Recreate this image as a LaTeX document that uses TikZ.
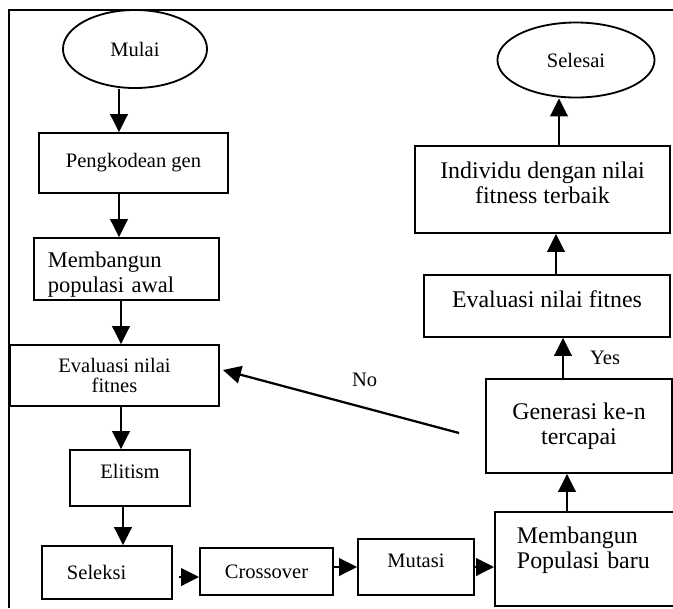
\documentclass[tikz,border=0pt]{standalone}
\usepackage{fontspec}
\setmainfont{Liberation Serif}
\usetikzlibrary{positioning,shapes.geometric,arrows.meta}

% struts to move text off the box centre
\newcommand{\lowstrut}[1]{\rule[-#1]{0pt}{#1}}
\newcommand{\highstrut}[1]{\rule{0pt}{#1}}

\begin{document}
\begin{tikzpicture}[
    x=0.025cm, y=-0.025cm,
    box/.style={draw, line width=1.3pt, inner sep=0pt},
    oval/.style={draw, ellipse, line width=1.3pt, inner sep=0pt},
    arr/.style={-{Triangle[length=0.45cm, width=0.44cm]}, line width=1.6pt},
    fsmall/.style={font=\fontsize{14.6}{14.2}\selectfont},
    fmid/.style={font=\fontsize{16}{17.8}\selectfont},
    fbig/.style={font=\fontsize{17}{17.8}\selectfont},
]

% --- page (pixel units) and frame ---
\useasboundingbox (0,0) rectangle (673,608);
\draw[line width=0.8pt] (673,10) -- (9,10) -- (9,608);

% --- left column ---
\node[oval, fsmall, minimum width=3.6cm, minimum height=1.95cm] (mulai) at (135,49) {Mulai};
\node[box, fsmall, minimum width=4.725cm, minimum height=1.5cm] (peng) at (133.5,163) {Pengkodean gen};
\node[box, fmid, align=left, text width=3.925cm, minimum width=4.625cm, minimum height=1.55cm]
    (awal) at (126.5,269) {\highstrut{19pt}Membangun\\populasi awal};
\node[box, fsmall, align=center, minimum width=5.225cm, minimum height=1.525cm]
    (evl) at (114.5,375.5) {Evaluasi nilai\\fitnes};
\node[box, fsmall, minimum width=3cm, minimum height=1.4cm] (elit) at (130,478) {Elitism\lowstrut{10pt}};
\node[box, fsmall, align=left, text width=2cm, minimum width=3.25cm, minimum height=1.325cm]
    (sel) at (107,572.5) {Seleksi};

% --- bottom row ---
\node[box, fsmall, minimum width=3.325cm, minimum height=1.175cm] (cross) at (266.5,571.5) {Crossover};
\node[box, fsmall, minimum width=2.9cm, minimum height=1.4cm] (mut) at (416,567) {Mutasi\lowstrut{8.5pt}};
\node[box, fbig, align=left, text width=3.9cm, minimum width=5cm, minimum height=2.35cm]
    (baru) at (595,559) {Membangun\\Populasi baru\lowstrut{16pt}};

% --- right column ---
\node[box, fbig, align=center, minimum width=4.65cm, minimum height=2.35cm]
    (gen) at (579,426) {Generasi ke-n\\tercapai};
\node[box, fbig, minimum width=6.15cm, minimum height=1.55cm] (evr) at (547,306) {Evaluasi nilai fitnes\lowstrut{10pt}};
\node[box, fbig, align=center, minimum width=6.375cm, minimum height=2.175cm]
    (indiv) at (542.5,189.5) {Individu dengan nilai\\fitness terbaik\lowstrut{9pt}};
\node[oval, fsmall, minimum width=3.925cm, minimum height=1.875cm] (selesai) at (576,60) {Selesai};

% --- arrows down the left ---
\draw[arr] ([xshift=-0.4cm]mulai.south) -- ([xshift=-0.4cm]mulai.south |- peng.north);
\draw[arr] ([xshift=-0.3625cm]peng.south) -- ([xshift=-0.3625cm]peng.south |- awal.north);
\draw[arr] ([xshift=-0.1375cm]awal.south) -- ([xshift=-0.1375cm]awal.south |- evl.north);
\draw[arr] ([xshift=0.1625cm]evl.south) -- ([xshift=0.1625cm]evl.south |- elit.north);
\draw[arr] ([xshift=-0.175cm]elit.south) -- ([xshift=-0.175cm]elit.south |- sel.north);

% --- arrows along the bottom ---
\draw[arr, shorten <=0.15cm] ([yshift=-0.1125cm]sel.east) -- ([yshift=-0.1125cm]sel.east -| cross.west);
\draw[arr] ([yshift=0.1125cm]cross.east) -- ([yshift=0.1125cm]cross.east -| mut.west);
\draw[arr] (mut.east) -- (mut.east -| baru.west);

% --- arrows up the right ---
\draw[arr] ([xshift=-0.3cm]gen.south |- baru.north) -- ([xshift=-0.3cm]gen.south);
\draw[arr] ([xshift=-0.4cm]gen.north) -- ([xshift=-0.4cm]gen.north |- evr.south)
    node[midway, right=0.65cm, fsmall, inner sep=0pt] (yes) {Yes};
\draw[arr] ([xshift=0.225cm]evr.north) -- ([xshift=0.225cm]evr.north |- indiv.south);
\draw[arr] ([xshift=0.4125cm]indiv.north) -- ([xshift=0.4125cm]indiv.north |- selesai.south);

% --- loop back ---
\draw[arr] ([shift={(-26,7)}]gen.west) -- ([shift={(3,-5.5)}]evl.east)
    node[pos=0.4, above=0.5cm, fsmall, inner sep=0pt] (no) {No};

\end{tikzpicture}
\end{document}
